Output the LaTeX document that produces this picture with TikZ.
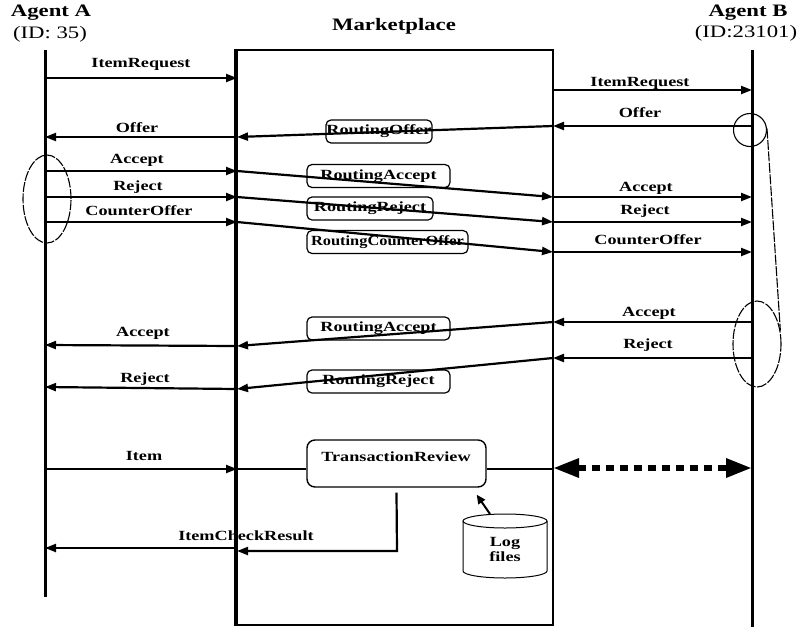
\documentclass[tikz,border=0pt]{standalone}
\usepackage{fontspec}
\usepackage{graphicx}
\setmainfont[FakeStretch=1.3]{Liberation Serif}
\usetikzlibrary{arrows.meta,shapes.geometric}
\begin{document}
\begin{tikzpicture}[x=1pt,y=-1pt,
  lifeline/.style={line width=3pt},
  msg/.style={line width=2.2pt,-{Triangle[length=11pt,width=8pt]}},
  thinlink/.style={line width=1.2pt},
  rbox/.style={draw,rounded corners=5pt,line width=1.2pt,inner sep=0pt,
    minimum height=23pt,font=\fontsize{14}{14}\selectfont\bfseries},
  lbl/.style={font=\fontsize{14}{14}\selectfont\bfseries,inner sep=0pt},
  ttl/.style={font=\fontsize{17.5}{18}\selectfont\bfseries,inner sep=0pt},
  idtxt/.style={font=\fontsize{17.5}{18}\selectfont,inner sep=0pt},
  grpline/.style={line width=1.1pt,dash pattern=on 10pt off 1.5pt},
  grp/.style={ellipse,draw,grpline,inner sep=0pt},
]
\useasboundingbox (0,0) rectangle (803,627);

% ---------- headers ----------
\node[ttl]   (titleA) at (51,13)   {Agent A};
\node[idtxt] (idA)    at (50,34)   {(ID: 35)};
\node[ttl]   (titleM) at (394,26)  {Marketplace};
\node[ttl]   (titleB) at (748,13)  {Agent B};
\node[idtxt] (idB)    at (746,33)  {(ID:23101)};

% ---------- lifelines and marketplace ----------
\coordinate (aTop) at (45,50);  \coordinate (aBot) at (45,597);
\coordinate (bTop) at (752,50); \coordinate (bBot) at (752,627);
\draw[lifeline] (aTop) -- (aBot);
\draw[lifeline] (bTop) -- (bBot);
\node[draw,line width=2.6pt,minimum width=316pt,minimum height=575pt,inner sep=0pt]
  (mkt) at (395,337.5) {};
\draw[lifeline] (mkt.north west) -- (mkt.south west);

% ---------- routing boxes ----------
\node[rbox,minimum width=106pt] (rOffer)   at (379,131.5) {RoutingOffer};
\node[rbox,minimum width=143pt] (rAccept1) at (378.5,176) {RoutingAccept};
\node[rbox,minimum width=126pt] (rReject1) at (370,208.5) {RoutingReject};
\node[rbox,minimum width=161pt] (rCounter) at (387.5,242) {\scalebox{0.9}[1]{RoutingCounterOffer}};
\node[rbox,minimum width=143pt] (rAccept2) at (378.5,328.5) {RoutingAccept};
\node[rbox,minimum width=143pt] (rReject2) at (378.5,381.5) {RoutingReject};
\node[draw,rounded corners=8pt,line width=1.4pt,minimum width=179pt,minimum height=47pt,inner sep=0pt]
  (tr) at (396.5,463.5) {};
\node[lbl] (trText) at (396,457) {TransactionReview};

% ---------- message end points ----------
\coordinate (a1) at (45,78);   \coordinate (l1) at (237,78);
\coordinate (r2) at (553,90);  \coordinate (b2) at (752,90);
\coordinate (b3) at (752,126); \coordinate (r3) at (553,126);
\coordinate (l3) at (237,137); \coordinate (a3) at (45,137);
\coordinate (a4) at (45,171);  \coordinate (l4) at (237,171);
\coordinate (r4) at (553,197); \coordinate (b4) at (752,197);
\coordinate (a5) at (45,197);  \coordinate (l5) at (237,197);
\coordinate (r5) at (553,222); \coordinate (b5) at (752,222);
\coordinate (a6) at (45,222);  \coordinate (l6) at (237,222);
\coordinate (r6) at (553,252); \coordinate (b6) at (752,252);
\coordinate (b7) at (752,322); \coordinate (r7) at (553,322);
\coordinate (l7) at (237,346); \coordinate (a7) at (45,345);
\coordinate (b8) at (752,358); \coordinate (r8) at (553,358);
\coordinate (l8) at (237,389); \coordinate (a8) at (45,387);
\coordinate (a9) at (45,469);  \coordinate (l9) at (237,469);
\coordinate (r9) at (553,468); \coordinate (b9) at (752,468);
\coordinate (c10) at (397,551); \coordinate (l10) at (237,551);
\coordinate (k10) at (237,548); \coordinate (a10) at (45,548);

% ---------- request / offer ----------
\draw[msg] (a1) -- (l1);
\node[lbl] (tItemReqA) at (141,64) {ItemRequest};
\draw[msg] (r2) -- (b2);
\node[lbl] (tItemReqB) at (640,83) {ItemRequest};
\draw[msg] (b3) -- (r3);
\node[lbl] (tOfferB) at (640,113) {Offer};
\draw[msg] (r3) -- (l3);
\draw[msg] ([xshift=-1pt]l3) -- (a3);
\node[lbl] (tOfferA) at (137,128) {Offer};

% ---------- accept / reject / counter offer from A ----------
\draw[msg] (a4) -- (l4);
\node[lbl] (tAcceptA) at (137,160) {Accept};
\draw[msg] (l4) -- (r4);
\draw[msg] (r4) -- (b4);
\node[lbl] (tAcceptB) at (646,188) {Accept};

\draw[msg] (a5) -- (l5);
\node[lbl] (tRejectA) at (138,187) {Reject};
\draw[msg] (l5) -- (r5);
\draw[msg] (r5) -- (b5);
\node[lbl] (tRejectB) at (645,211) {Reject};

\draw[msg] (a6) -- (l6);
\node[lbl] (tCounterA) at (139,211) {CounterOffer};
\draw[msg] (l6) -- (r6);
\draw[msg] (r6) -- (b6);
\node[lbl] (tCounterB) at (648,240) {CounterOffer};

% ---------- accept / reject from B ----------
\draw[msg] (b7) -- (r7);
\node[lbl] (tAcceptB2) at (649,313) {Accept};
\draw[msg] (r7) -- (l7);
\draw[msg] (l7) -- (a7);
\node[lbl] (tAcceptA2) at (143,333) {Accept};

\draw[msg] (b8) -- (r8);
\node[lbl] (tRejectB2) at (648,345) {Reject};
\draw[msg] (r8) -- (l8);
\draw[msg] (l8) -- (a8);
\node[lbl] (tRejectA2) at (145,379) {Reject};

% ---------- item and review ----------
\draw[msg] (a9) -- (l9);
\node[lbl] (tItem) at (144,456) {Item};
\draw[thinlink] (l9) -- (tr.west |- l9);
\draw[thinlink] (tr.east |- l9) -- (r9 |- l9);
\draw[line width=6pt,dash pattern=on 8pt off 6pt,
  {Triangle[length=26pt,width=18pt]}-{Triangle[length=26pt,width=18pt]}] (r9) -- (b9);

\draw[msg] ([yshift=-5pt]tr.south) -- (c10) -- (l10);
\draw[msg] (k10) -- (a10);
\node[lbl] (tCheck) at (246,536) {ItemCheckResult};

% ---------- log files ----------
\draw[line width=1pt] (505,521) ellipse [x radius=42pt, y radius=7pt];
\draw[line width=1pt] (463,521) -- (463,571)
  arc[start angle=180, end angle=360, x radius=42pt, y radius=7pt] -- (547,521);
\node[lbl,align=center,font=\fontsize{14}{15}\selectfont\bfseries] (logs) at (505,549) {Log\\files};
\coordinate (logTop) at (490,514);
\draw[line width=2pt,-{Triangle[length=9pt,width=8pt]}] (logTop) -- ([xshift=-10pt,yshift=-7pt]tr.south east);

% ---------- grouping marks ----------
\node[grp,minimum width=48pt,minimum height=88pt] (grpA) at (47,199) {};
\node[grp,minimum width=48pt,minimum height=86pt] (grpB) at (757,344) {};
\node[circle,draw,line width=1.1pt,minimum size=33pt,inner sep=0pt] (offerMark) at (750,130) {};
\draw[grpline] (offerMark.5) -- (grpB.30);
\end{tikzpicture}
\end{document}
